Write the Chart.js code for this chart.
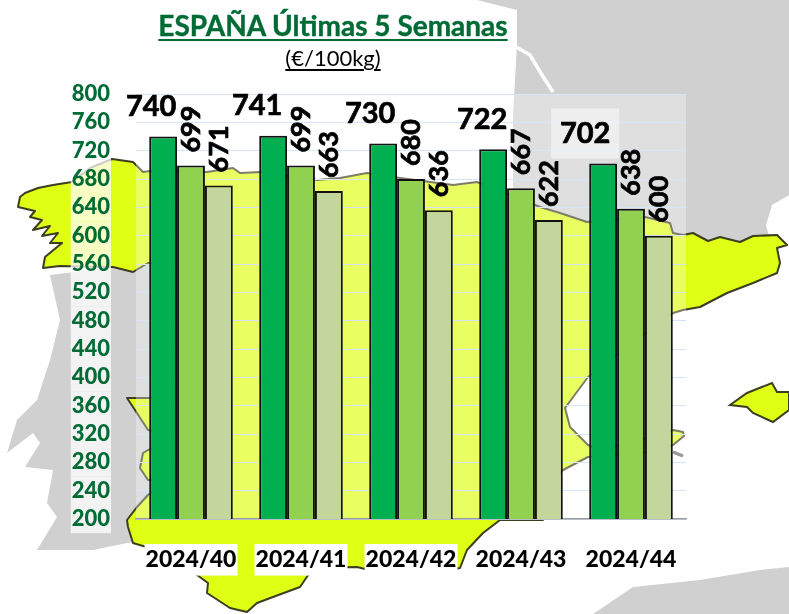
<!DOCTYPE html>
<html>
<head>
<meta charset="utf-8">
<title>ESPAÑA Últimas 5 Semanas</title>
<script src="https://cdn.jsdelivr.net/npm/chart.js@4"></script>
<style>
  html, body { margin: 0; padding: 0; background: #fff; }
  #wrap { position: relative; width: 789px; height: 614px; overflow: hidden; font-family: Lato, sans-serif; }
  #map, #chart { position: absolute; left: 0; top: 0; }
  .head { position: absolute; left: 133px; width: 400px; text-align: center; white-space: nowrap; text-decoration: underline; }
  #title { top: 8px; font-size: 28px; font-weight: 700; color: #006b35; text-decoration-thickness: 2px; text-underline-offset: 3px; -webkit-text-stroke: 0.4px #006b35; }
  #unit { top: 44px; font-size: 22px; color: #000; text-decoration-thickness: 1.5px; text-underline-offset: 3px; }
</style>
</head>
<body>
<div id="wrap">
  <!-- background map, only decoration behind the chart -->
  <svg id="map" width="789" height="614">
    <g fill="#d0d0d0">
      <polygon points="477,0 789,0 789,195 772,205 766,225 770,240 690,250 600,235 513,200 513,115 517,45 517,10" />
      <polygon points="50,275 155,262 155,540 127,543 93,550 37,550 57,517 47,503 53,470 25,467 40,443 33,433 7,453 17,420 37,400 50,360 60,320" />
      <polygon points="593,614 633,587 700,580 760,570 789,567 789,614" />
    </g>
    <polyline points="513,45 530,55 542,75 553,92" fill="none" stroke="#fff" stroke-width="3.5" />
    <polygon fill="#dfff14" stroke="#3d3d20" stroke-width="2" stroke-linejoin="round" points="20,197 25,193 38,188 53,185 72,182 90,168 112,159 133,162 143,172 150,171 207,172 233,168 240,173 260,172 317,180 340,178 367,173 400,178 453,185 477,182 540,207 560,213 587,222 645,217 670,223 673,233 683,235 693,233 708,241 720,237 740,242 753,236 777,235 787,245 777,248 780,263 777,273 753,283 727,293 700,307 683,310 673,313 630,345 588,377 565,408 570,427 588,445 600,450 640,440 673,430 683,432 684,436 673,445 650,452 588,457 563,470 545,490 543,520 500,520 483,533 467,550 460,568 450,570 440,567 427,572 410,572 400,567 377,572 357,567 313,568 300,587 273,597 257,603 247,612 230,608 207,593 208,583 193,572 180,557 133,543 128,527 127,520 137,507 148,495 155,490 155,480 148,480 140,468 143,453 148,450 155,448 155,431 148,430 133,407 127,398 155,398 155,263 148,263 133,272 113,267 60,266 43,268 45,257 62,243 50,243 58,233 42,236 50,226 33,230 42,220 30,217 35,211 18,207" />
    <polygon fill="#dfff14" stroke="#3d3d20" stroke-width="2" points="730,405 747,393 772,383 777,392 789,392 789,410 773,422 753,413 747,407" />
    <line x1="673" y1="452" x2="683" y2="456" stroke="#666" stroke-width="3" />
  </svg>
  <canvas id="chart" width="789" height="614"></canvas>
  <div id="title" class="head">ESPAÑA Últimas 5 Semanas</div>
  <div id="unit" class="head">(€/100kg)</div>
</div>
<script>
const weeks = ['2024/40', '2024/41', '2024/42', '2024/43', '2024/44']
const series1 = [740, 741, 730, 722, 702]
const series2 = [699, 699, 680, 667, 638]
const series3 = [671, 663, 636, 622, 600]

// the big labels don't sit on the bar centre in the original
const bigLabelShift = [-12, -16, -13, -11, -18]

const areaWash = {
  id: 'areaWash',
  beforeDraw (chart) {
    const { ctx, chartArea: a } = chart
    ctx.save()
    ctx.fillStyle = 'rgba(255,255,255,0.33)'
    ctx.fillRect(a.left, a.top, a.right - a.left, a.bottom - a.top)
    ctx.restore()
  }
}

const valueLabels = {
  id: 'valueLabels',
  afterDatasetsDraw (chart) {
    const ctx = chart.ctx
    ctx.save()
    ctx.fillStyle = '#000'
    ctx.strokeStyle = '#000'
    ctx.lineWidth = 0.7
    ctx.textAlign = 'center'
    ctx.textBaseline = 'middle'

    chart.getDatasetMeta(0).data.forEach((bar, i) => {
      const x = bar.x + bigLabelShift[i]
      const y = bar.y - 30
      ctx.font = 'bold 29px Lato'
      if (i === 4) {
        ctx.fillStyle = 'rgba(255,255,255,0.45)'
        ctx.fillRect(x - 34, y - 25, 68, 50)
        ctx.fillStyle = '#000'
      }
      ctx.fillText(series1[i], x, y)
      ctx.strokeText(series1[i], x, y)
    })

    ;[1, 2].forEach((d) => {
      chart.getDatasetMeta(d).data.forEach((bar, i) => {
        ctx.save()
        ctx.translate(bar.x, bar.y - 13)
        ctx.rotate(-Math.PI / 2)
        ctx.font = 'bold 27px Lato'
        ctx.textAlign = 'left'
        ctx.fillText(chart.data.datasets[d].data[i], 0, 0)
        ctx.strokeText(chart.data.datasets[d].data[i], 0, 0)
        ctx.restore()
      })
    })
    ctx.restore()
  }
}

new Chart(document.getElementById('chart').getContext('2d'), {
  type: 'bar',
  data: {
    labels: weeks,
    datasets: [
      { data: series1, backgroundColor: '#00b050' },
      { data: series2, backgroundColor: '#92d050' },
      { data: series3, backgroundColor: '#c3d69b' }
    ]
  },
  options: {
    responsive: false,
    animation: false,
    layout: { padding: { top: 94, right: 103 } },
    datasets: {
      bar: {
        categoryPercentage: 0.76,
        barPercentage: 1,
        borderColor: '#111',
        borderWidth: 2,
        borderSkipped: 'bottom'
      }
    },
    plugins: {
      legend: { display: false },
      tooltip: { enabled: false }
    },
    scales: {
      x: {
        afterFit (scale) { scale.height = 95 },
        grid: { display: false },
        border: { color: '#9a9a9a', width: 1.5 },
        ticks: {
          color: '#000',
          padding: 19,
          maxRotation: 0,
          font: { family: 'Lato', weight: '900', size: 23 },
          showLabelBackdrop: true,
          backdropColor: '#fff',
          backdropPadding: { x: 1, y: 2 }
        }
      },
      y: {
        min: 200,
        max: 800,
        afterFit (scale) { scale.width = 136 },
        grid: { color: '#d8e5f8', drawTicks: false, lineWidth: 1 },
        border: { display: false },
        ticks: {
          stepSize: 40,
          autoSkip: false,
          color: '#006b35',
          padding: 26,
          font: { family: 'Lato', weight: '900', size: 22 },
          showLabelBackdrop: true,
          backdropColor: 'rgba(255,255,255,0.75)',
          backdropPadding: { x: 1, y: 1 }
        }
      }
    }
  },
  plugins: [areaWash, valueLabels]
})
</script>
</body>
</html>
